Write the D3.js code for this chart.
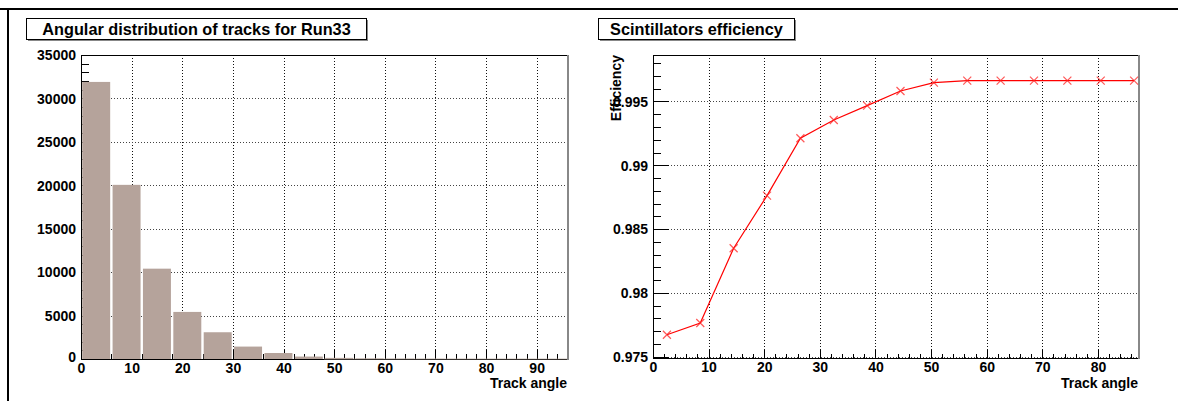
<!DOCTYPE html>
<html>
<head>
<meta charset="utf-8">
<script src="https://cdn.jsdelivr.net/npm/d3@7"></script>
<style>
  html, body { margin: 0; padding: 0; background: #fff; }
  svg { display: block; }
  text { font-family: "Liberation Sans", Arial, Helvetica, sans-serif; font-weight: bold; fill: #000; }
</style>
</head>
<body>
<svg id="canvas" width="1178" height="401"></svg>
<script>
// ---- Angular distribution histogram (6 degree bins) ----
const binStarts   = [0, 6, 12, 18, 24, 30, 36, 42, 48, 54, 60, 66, 72, 78, 84, 90];
const binWidth    = 6;
const trackCounts = [31900, 20050, 10400, 5420, 3080, 1430, 690, 280, 130, 60, 35, 20, 12, 8, 5, 3];
const histXTicks  = [0, 10, 20, 30, 40, 50, 60, 70, 80, 90];
const histYTicks  = [0, 5000, 10000, 15000, 20000, 25000, 30000, 35000];

// ---- Scintillator efficiency vs track angle ----
const effAngles  = [2.5, 8.5, 14.5, 20.5, 26.5, 32.5, 38.5, 44.5, 50.5, 56.5, 62.5, 68.5, 74.5, 80.5, 86.5];
const efficiency = [0.97672, 0.97764, 0.98350, 0.98762, 0.99212, 0.99355, 0.99467, 0.99582, 0.99647,
                    0.99663, 0.99663, 0.99663, 0.99663, 0.99663, 0.99663];
const effXTicks  = [0, 10, 20, 30, 40, 50, 60, 70, 80];
const effYTicks  = [0.975, 0.98, 0.985, 0.99, 0.995];

const svg = d3.select("#canvas");

// canvas border (top and left edges)
svg.append("line").attr("x1", 0).attr("x2", 1178).attr("y1", 9).attr("y2", 9)
  .attr("stroke", "#000").attr("stroke-width", 2);
svg.append("line").attr("x1", 8).attr("x2", 8).attr("y1", 9).attr("y2", 401)
  .attr("stroke", "#000").attr("stroke-width", 2);

function titleBox(x, y, w, h, label, size) {
  const g = svg.append("g");
  g.append("rect").attr("x", x + 2).attr("y", y + 2).attr("width", w).attr("height", h).attr("fill", "#888");
  g.append("rect").attr("x", x + 0.5).attr("y", y + 0.5).attr("width", w).attr("height", h)
    .attr("fill", "#fff").attr("stroke", "#000").attr("stroke-width", 1);
  g.append("text").attr("x", x + w / 2 + 0.5).attr("y", y + 16.5).attr("text-anchor", "middle")
    .style("font-size", size + "px").text(label);
}

function minorValues(lo, hi, step) {
  const out = [];
  const n = Math.round((hi - lo) / step);
  for (let i = 0; i <= n; i++) out.push(+(lo + i * step).toFixed(6));
  return out;
}

function drawGrid(g, x, y, xt, yt, w, h) {
  const grid = g.append("g").attr("stroke-width", 1).attr("stroke-dasharray", "1 2");
  xt.filter(v => x(v) > 1 && x(v) < w - 1).forEach(v => {
    grid.append("line").attr("x1", Math.round(x(v)) + 0.5).attr("x2", Math.round(x(v)) + 0.5)
      .attr("y1", 0).attr("y2", h).attr("stroke", "#111");
  });
  yt.filter(v => y(v) > 1 && y(v) < h + 1).forEach(v => {
    grid.append("line").attr("y1", Math.round(y(v)) + 0.5).attr("y2", Math.round(y(v)) + 0.5)
      .attr("x1", 0).attr("x2", w).attr("stroke", "#444");
  });
}

function drawAxes(g, x, y, w, h, o) {
  // minor ticks
  g.append("g").attr("transform", `translate(0,${h})`)
    .call(d3.axisBottom(x).tickValues(o.xMinor).tickSize(-o.xMinorLen).tickFormat(""))
    .call(s => s.select(".domain").remove());
  g.append("g")
    .call(d3.axisLeft(y).tickValues(o.yMinor).tickSize(-o.yMinorLen).tickFormat(""))
    .call(s => s.select(".domain").remove());
  // major ticks with labels
  const xa = g.append("g").attr("transform", `translate(0,${h})`)
    .call(d3.axisBottom(x).tickValues(o.xTicks).tickSize(-o.xMajorLen).tickPadding(4).tickFormat(d => String(d)));
  const ya = g.append("g")
    .call(d3.axisLeft(y).tickValues(o.yTicks).tickSize(-o.yMajorLen).tickPadding(5).tickFormat(d => String(d)));
  [xa, ya].forEach(a => {
    a.selectAll("text").style("font-size", "14px");
    a.attr("font-family", null).attr("font-size", null);
    a.select(".domain").remove();
  });
  xa.selectAll("text").attr("y", 4).attr("dy", "0.71em");
  ya.selectAll("text").attr("x", -5).attr("dy", "0.34em");
  g.selectAll(".tick line").attr("stroke", "#000").attr("shape-rendering", "crispEdges");
  // frame
  g.append("line").attr("x1", 0).attr("x2", w).attr("y1", 0.5).attr("y2", 0.5).attr("stroke", "#000");
  g.append("line").attr("x1", w + 1).attr("x2", w + 1).attr("y1", 0).attr("y2", h + 1)
    .attr("stroke", "#888").attr("stroke-width", 2);
  g.append("line").attr("x1", 0).attr("x2", w).attr("y1", h + 0.5).attr("y2", h + 0.5).attr("stroke", "#000");
  g.append("line").attr("x1", 0.5).attr("x2", 0.5).attr("y1", 0).attr("y2", h + 1).attr("stroke", "#000");
  return { xa, ya };
}

// ================= Left panel: histogram =================
{
  titleBox(26, 18, 340, 21, "Angular distribution of tracks for Run33", 16.3);
  const left = 81, top = 55, w = 486, h = 304;
  const g = svg.append("g").attr("transform", `translate(${left},${top})`);
  const x = d3.scaleLinear().domain([0, 96]).range([0, w]);
  const y = d3.scaleLinear().domain([0, 35000]).range([h, 0]);

  drawGrid(g, x, y, histXTicks, histYTicks, w, h);

  const axes = drawAxes(g, x, y, w, h, {
    xTicks: histXTicks, yTicks: histYTicks,
    xMinor: minorValues(0, 96, 2), yMinor: minorValues(0, 35000, 1000),
    xMajorLen: 9, xMinorLen: 5, yMajorLen: 16, yMinorLen: 8
  });
  // the zero of the count axis sits a little above the corner
  axes.ya.selectAll(".tick text").filter(d => d === 0).attr("dy", "0.15em");

  // bars sit on top of the inner ticks
  g.append("g").selectAll("rect").data(binStarts).join("rect")
    .attr("x", (d) => x(d) + 1.2)
    .attr("width", () => x(binWidth) - x(0) - 2.4)
    .attr("y", (d, i) => y(trackCounts[i]))
    .attr("height", (d, i) => h - y(trackCounts[i]))
    .attr("fill", "#b5a39b");

  // faint bar tops along the axis line for the almost empty bins
  g.append("g").selectAll("rect").data(binStarts.filter((d, i) => trackCounts[i] < 200)).join("rect")
    .attr("x", d => x(d)).attr("width", x(binWidth) - x(0))
    .attr("y", h - 0.5).attr("height", 1).attr("fill", "#b5a39b").attr("opacity", 0.6);

  svg.append("text").attr("x", left + w).attr("y", 388).attr("text-anchor", "end")
    .style("font-size", "14px").text("Track angle");
}

// ================= Right panel: efficiency graph =================
{
  titleBox(598, 18, 196, 21, "Scintillators efficiency", 16.3);
  const left = 653, top = 55, w = 485, h = 303;
  const g = svg.append("g").attr("transform", `translate(${left},${top})`);
  const x = d3.scaleLinear().domain([0, 87.2]).range([0, w]);
  const y = d3.scaleLinear().domain([0.9749, 0.99864]).range([h, 0]);

  drawGrid(g, x, y, effXTicks, effYTicks, w, h);

  drawAxes(g, x, y, w, h, {
    xTicks: effXTicks, yTicks: effYTicks,
    xMinor: minorValues(0, 86, 2), yMinor: minorValues(0.975, 0.998, 0.001),
    xMajorLen: 8, xMinorLen: 4, yMajorLen: 16, yMinorLen: 8
  });

  const pts = effAngles.map((a, i) => [x(a), y(efficiency[i])]);
  g.append("path").attr("d", d3.line()(pts))
    .attr("fill", "none").attr("stroke", "#ff0000").attr("stroke-width", 1.2);
  g.append("g").selectAll("path").data(pts).join("path")
    .attr("transform", d => `translate(${d[0]},${d[1]})`)
    .attr("d", "M-4,-4L4,4M-4,4L4,-4")
    .attr("stroke", "#ff2020").attr("stroke-opacity", 0.75).attr("stroke-width", 1.2);

  svg.append("text").attr("x", left + w).attr("y", 388).attr("text-anchor", "end")
    .style("font-size", "14px").text("Track angle");
  svg.append("text").attr("transform", `translate(621,55) rotate(-90)`).attr("text-anchor", "end")
    .style("font-size", "14px").text("Efficiency");
}
</script>
</body>
</html>
